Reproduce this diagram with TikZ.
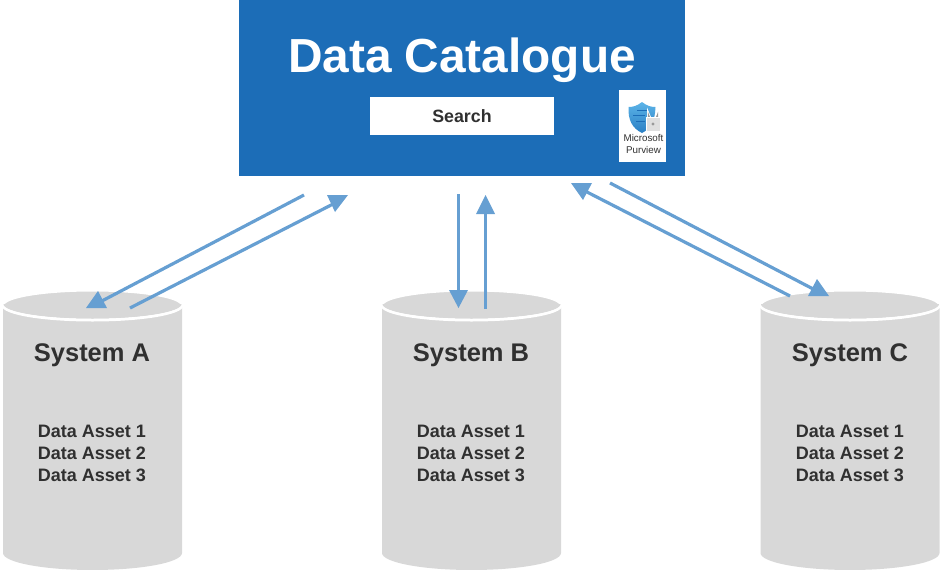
\documentclass[tikz,border=0pt]{standalone}
\usepackage{fontspec}
\setmainfont{Liberation Sans}
\usetikzlibrary{shadings}
\definecolor{catblue}{HTML}{1C6DB7}
\definecolor{arrowblue}{HTML}{669FD2}
\definecolor{cylgray}{HTML}{D8D8D8}
\definecolor{txtdark}{HTML}{303030}
\definecolor{shieldtop}{HTML}{5CB4E8}
\definecolor{shieldlow}{HTML}{2A7FC4}
\tikzset{
  cat/.style={fill=catblue,minimum width=446pt,minimum height=176pt,inner sep=0pt,outer sep=0pt},
  searchbox/.style={fill=white,minimum width=184pt,minimum height=38pt,inner sep=0pt,font=\fontsize{17.8}{20}\selectfont\bfseries,text=txtdark},
  flow/.style={draw=arrowblue,line width=3.2pt},
  tip/.style={fill=arrowblue,draw=none},
  syslabel/.style={font=\fontsize{25.5}{30}\selectfont\bfseries,text=txtdark,inner sep=0pt},
  assetlabel/.style={font=\fontsize{18}{22}\selectfont\bfseries,text=txtdark,align=center,inner sep=0pt},
  cyl/.pic={
    \path[fill=cylgray] (-89.5,0) -- (-89.5,248) arc[start angle=180,end angle=360,x radius=89.5,y radius=-17] -- (89.5,0) -- cycle;
    \path[fill=cylgray,draw=white,line width=3pt] (0,0) ellipse[x radius=89.5,y radius=15];
    \path[fill=cylgray] (-89,-1) arc[start angle=180,end angle=0,x radius=89,y radius=14.5] -- cycle;
  }
}
\begin{document}
\begin{tikzpicture}[x=1pt,y=-1pt]
\useasboundingbox (0,0) rectangle (942,570);
% catalogue
\node[cat,anchor=north west] (catalogue) at (239,0) {};
\node[font=\fontsize{47.8}{50}\selectfont\bfseries,text=white,inner sep=0pt] (title) at (462,60) {Data Catalogue};
\node[searchbox] (search) at (462,116) {Search};
% icon
\node[fill=white,minimum width=47pt,minimum height=72pt,inner sep=0pt,anchor=north west] (icon) at (619,90) {};
\path[top color=shieldtop,bottom color=shieldlow] (642,102) .. controls (637,106) and (633,107) .. (628.5,107) .. controls (628,120) and (632,128) .. (642,133) .. controls (650,129) and (655,122) .. (655.5,107) .. controls (651,107) and (647,106) .. (642,102) -- cycle;
\path[draw=catblue,line width=1pt] (637,110) -- (648,110) (633,115.5) -- (645,115.5) (636,121) -- (645,121);
\path[draw=white,line width=3pt] (648.5,118) -- (648.5,115) arc[start angle=180,end angle=0,radius=4.5] -- (657.5,118);
\path[draw=gray!80,line width=1.3pt] (648.5,118) -- (648.5,115) arc[start angle=180,end angle=0,radius=4.5] -- (657.5,118);
\path[fill=gray!25,draw=white,line width=1pt] (646,117.5) rectangle (660,131);
\path[fill=gray!80] (653,124) circle[radius=1.6];
\node[font=\fontsize{9.8}{11.2}\selectfont,align=center,text=txtdark,inner sep=0pt] (iconlabel) at (643.5,144) {Microsoft\\Purview};
% cylinders
\pic at (92.5,305) {cyl};
\pic at (471.5,305) {cyl};
\pic at (850,305) {cyl};
\node[syslabel] (sysA) at (92,355) {System A};
\node[syslabel] (sysB) at (471,355) {System B};
\node[syslabel] (sysC) at (850,355) {System C};
\node[assetlabel] (assetA) at (92,453) {Data Asset 1\\Data Asset 2\\Data Asset 3};
\node[assetlabel] (assetB) at (471,453) {Data Asset 1\\Data Asset 2\\Data Asset 3};
\node[assetlabel] (assetC) at (850,453) {Data Asset 1\\Data Asset 2\\Data Asset 3};
% connector ends
\coordinate (a1s) at (304,195); \coordinate (a1e) at (100,302);
\coordinate (a2s) at (130,308); \coordinate (a2e) at (337,202);
\coordinate (b1s) at (458.5,194); \coordinate (b1e) at (458.5,292);
\coordinate (b2s) at (485.5,309); \coordinate (b2e) at (485.5,212);
\coordinate (c1s) at (610,183); \coordinate (c1e) at (817,291);
\coordinate (c2s) at (790,296); \coordinate (c2e) at (585,191);
\draw[flow] (a1s) -- (a1e);
\draw[flow] (a2s) -- (a2e);
\draw[flow] (b1s) -- (b1e);
\draw[flow] (b2s) -- (b2e);
\draw[flow] (c1s) -- (c1e);
\draw[flow] (c2s) -- (c2e);
% arrow heads
\fill[tip] (98,291) -- (86,308) -- (107,308) -- cycle;
\fill[tip] (327,195) -- (348,195) -- (335,212) -- cycle;
\fill[tip] (449,290) -- (468,290) -- (458.5,308) -- cycle;
\fill[tip] (485.5,195) -- (476,214) -- (495,214) -- cycle;
\fill[tip] (817,279) -- (808,296) -- (829,296) -- cycle;
\fill[tip] (571,183) -- (592,183) -- (583,200) -- cycle;
\end{tikzpicture}
\end{document}
